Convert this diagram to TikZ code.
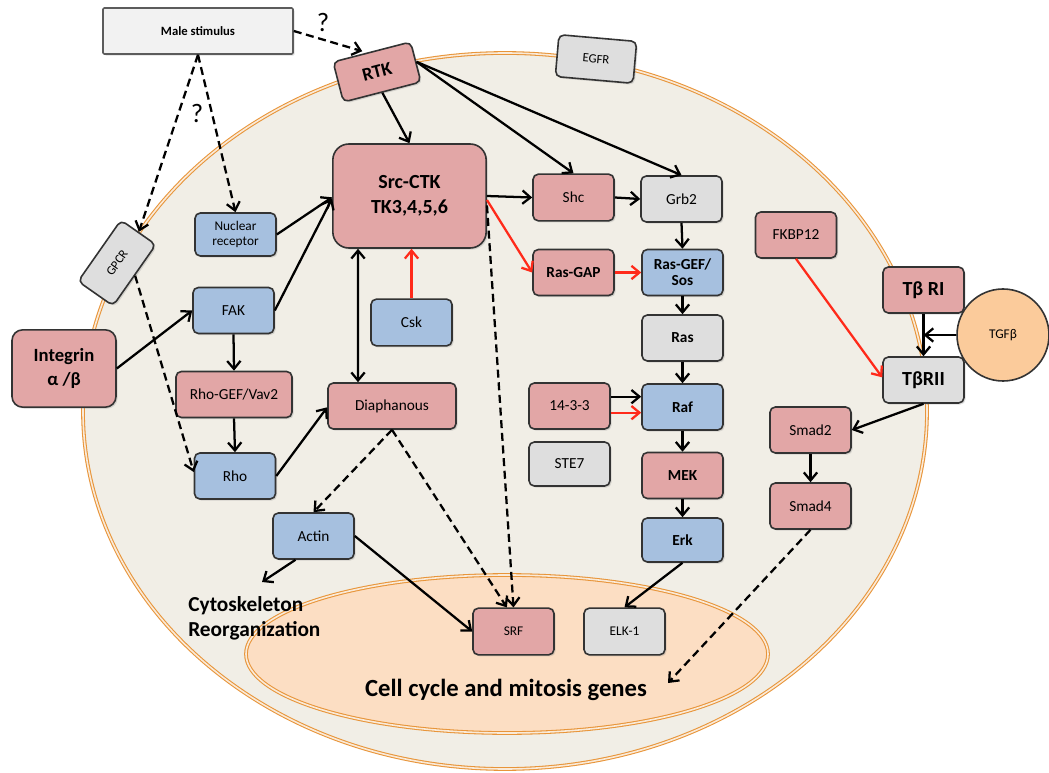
\documentclass[tikz,border=0pt]{standalone}
\usepackage{fontspec}
\setmainfont{Carlito}
\usetikzlibrary{arrows.meta,positioning,shadows}
\definecolor{cellfill}{HTML}{F1EEE6}
\definecolor{nucfill}{HTML}{FCDEC3}
\definecolor{membrane}{HTML}{E8953A}
\definecolor{pink}{HTML}{E2A6A6}
\definecolor{blue}{HTML}{A6C0DF}
\definecolor{grey}{HTML}{DEDEDE}
\definecolor{ligand}{HTML}{FBCB9B}
\definecolor{inhib}{HTML}{FF2A1A}
\definecolor{edge}{HTML}{333333}

\tikzset{
  box/.style={draw=edge,line width=1.2pt,rounded corners=4pt,minimum width=60.75pt,
    minimum height=34.5pt,inner sep=2pt,align=center,font=\fontsize{11.5}{12.5}\selectfont,
    drop shadow={shadow xshift=1.2pt,shadow yshift=-1.2pt,opacity=0.25}},
  pinkbox/.style={box,fill=pink},
  bluebox/.style={box,fill=blue},
  greybox/.style={box,fill=grey},
  bold/.style={font=\fontsize{11.5}{12.5}\selectfont\bfseries},
  big/.style={font=\fontsize{15}{17}\selectfont\bfseries},
  small/.style={font=\fontsize{10}{11}\selectfont},
  act/.style={->,line width=1.7pt},
  dashact/.style={act,dash pattern=on 6pt off 3.5pt},
  redact/.style={act,inhib},
  membraneline/.style={membrane,line width=0.8pt,double=membrane!20,double distance=1.2pt},
}

\begin{document}
\begin{tikzpicture}[x=0.75pt,y=-0.75pt,>={Straight Barb[length=6pt,width=10pt]}]
    \useasboundingbox (0,0) rectangle (1049,773);
    % cell and nucleus
    \fill[cellfill] (505,411) ellipse [x radius=316.5pt,y radius=268.5pt];
    \draw[membraneline] (505,411) ellipse [x radius=316.5pt,y radius=268.5pt];
    \fill[nucfill] (507,654) ellipse [x radius=195.75pt,y radius=59.25pt];
    \draw[membraneline] (507,654) ellipse [x radius=195.75pt,y radius=59.25pt];

    % receptors and stimulus
    \node[box,fill=grey!40,draw=edge!80,rounded corners=1pt,minimum width=142.5pt,
      font=\fontsize{9.5}{11}\selectfont\bfseries] (male) at (198,31) {Male stimulus};
    \node[pinkbox,rotate=14.5,minimum width=60pt,minimum height=31pt,
      font=\fontsize{14}{16}\selectfont\bfseries] (rtk) at (377,72) {RTK};
    \node[greybox,rotate=-5,minimum width=58.5pt,minimum height=31.5pt,
      font=\fontsize{9.5}{11}\selectfont] (egfr) at (596,59) {EGFR};
    \node[greybox,rotate=55,minimum width=56pt,minimum height=32pt,
      font=\fontsize{9.5}{11}\selectfont] (gpcr) at (117,263) {GPCR};
    \node[pinkbox,rounded corners=8pt,minimum width=78pt,minimum height=58pt,
      font=\fontsize{14}{18}\selectfont\bfseries] (integrin) at (64,368.5) {Integrin\\α /β};

    % left and middle
    \node[pinkbox,rounded corners=12pt,minimum width=115pt,minimum height=78pt,
      font=\fontsize{15}{19}\selectfont\bfseries] (src) at (409.5,196) {Src-CTK\\TK3,4,5,6};
    \node[bluebox,small,minimum height=32.25pt] (nucrec) at (235.5,234.5) {Nuclear\\receptor};
    \node[bluebox] (fak) at (233.5,310.5) {FAK};
    \node[pinkbox,minimum width=87pt] (rhogef) at (234,394.5) {Rho-GEF/Vav2};
    \node[bluebox] (rho) at (235,476) {Rho};
    \node[bluebox,minimum height=35pt] (csk) at (411.5,322.5) {Csk};
    \node[pinkbox,minimum width=96pt] (diaph) at (392,406) {Diaphanous};
    \node[bluebox] (actin) at (313.5,536) {Actin};

    % MAPK column
    \node[pinkbox,minimum height=35pt] (shc) at (573.5,197.5) {Shc};
    \node[greybox] (grb2) at (681.5,199) {Grb2};
    \node[pinkbox,bold] (rasgap) at (573.5,272.5) {Ras-GAP};
    \node[bluebox,font=\fontsize{11.5}{12}\selectfont\bfseries] (sos) at (682.5,272.5) {Ras-GEF/\\Sos};
    \node[greybox,bold] (ras) at (682.5,338) {Ras};
    \node[pinkbox] (f1433) at (569.5,406) {14-3-3};
    \node[bluebox,bold] (raf) at (682.5,407) {Raf};
    \node[greybox,minimum height=33pt] (ste7) at (569.5,464) {STE7};
    \node[pinkbox,bold] (mek) at (682.5,475.5) {MEK};
    \node[bluebox,bold,minimum height=33pt] (erk) at (682.5,540) {Erk};

    % TGF-beta branch
    \node[pinkbox] (fkbp) at (796,235) {FKBP12};
    \node[pinkbox,big] (tbri) at (923.5,290) {Tβ RI};
    \node[greybox,big] (tbrii) at (923.5,380) {TβRII};
    \node[circle,draw=edge,line width=1.2pt,fill=ligand,minimum size=69pt,inner sep=0pt]
      (tgfb) at (1003,335) {TGFβ};
    \node[pinkbox] (smad2) at (810.5,430) {Smad2};
    \node[pinkbox] (smad4) at (810.5,506) {Smad4};

    % nucleus
    \node[pinkbox,small,minimum height=35pt] (srf) at (513.5,631.5) {SRF};
    \node[greybox,small,minimum height=35pt] (elk) at (624.5,631.5) {ELK-1};

    % free labels
    \node[anchor=west,align=left,inner sep=0pt,font=\fontsize{16}{18.75}\selectfont\bfseries]
      (cyto) at (188,618.5) {Cytoskeleton\\Reorganization};
    \node[inner sep=0pt,font=\fontsize{18.5}{20}\selectfont\bfseries] (genes) at (506,690)
      {Cell cycle and mitosis genes};
    \node[font=\fontsize{20}{22}\selectfont] (qrtk) at (323,22) {?};
    \node[font=\fontsize{20}{22}\selectfont] (qgpcr) at (197,113) {?};
    \coordinate (cytotip) at (262,582);
    \coordinate (genestip) at (668,683);

    % connectors
    \draw[dashact] (male.east) -- ([xshift=-7pt]rtk.north);
    \draw[dashact] (male.south) -- (gpcr.east);
    \draw[dashact] (male.south) -- (nucrec.north);
    \draw[act] (rtk.south) -- (src.north);
    \draw[act] (rtk.east) -- (shc.north);
    \draw[act] (rtk.east) -- (grb2.north);
    \draw[act] (nucrec.east) -- ([yshift=-1pt]src.west);
    \draw[act] (fak.east) -- ([yshift=-2pt]src.west);
    \draw[act,<->] ([xshift=-38.6pt]src.south) -- ([xshift=-25.5pt]diaph.north);
    \draw[redact] (csk.north) -- (csk.north |- src.south);
    \draw[act] (src.east) -- (shc.west);
    \draw[redact] ([yshift=-3pt]src.east) -- (rasgap.west);
    \draw[dashact] ([yshift=-7pt]src.east) -- (srf.north);
    \draw[act] (shc.east) -- (grb2.west);
    \draw[act] (grb2.south) -- (sos.north);
    \draw[redact] (rasgap.east) -- (sos.west);
    \draw[act] (sos.south) -- (ras.north);
    \draw[act] (ras.south) -- (raf.north);
    \draw[act] ([yshift=7pt]f1433.east) -- ([yshift=7pt]f1433.east -| raf.west);
    \draw[redact] ([yshift=-5pt]f1433.east) -- ([yshift=-5pt]f1433.east -| raf.west);
    \draw[act] (raf.south) -- (mek.north);
    \draw[act] (mek.south) -- (erk.north);
    \draw[act] (erk.south) -- (elk.north);
    \draw[act] (integrin.east) -- (fak.west);
    \draw[act] (fak.south) -- (rhogef.north);
    \draw[act] (rhogef.south) -- (rho.north);
    \draw[dashact] (gpcr.south) -- ([yshift=3pt]rho.west);
    \draw[act] (rho.east) -- ([yshift=-1pt]diaph.west);
    \draw[dashact] (diaph.south) -- (actin.north);
    \draw[dashact] (diaph.south) -- ([xshift=-5pt]srf.north);
    \draw[act] ([xshift=-13.5pt]actin.south) -- (cytotip);
    \draw[act] (actin.east) -- (srf.west);
    \draw[redact] (fkbp.south) -- ([yshift=2pt]tbrii.west);
    \draw[act] (tbri.south) -- (tbrii.north);
    \draw[act] (tgfb.west) -- (tgfb.west -| tbri.south);
    \draw[act] (tbrii.south) -- (smad2.east);
    \draw[act] (smad2.south) -- (smad4.north);
    \draw[dashact] (smad4.south) -- (genestip);
  \end{tikzpicture}
\end{document}
